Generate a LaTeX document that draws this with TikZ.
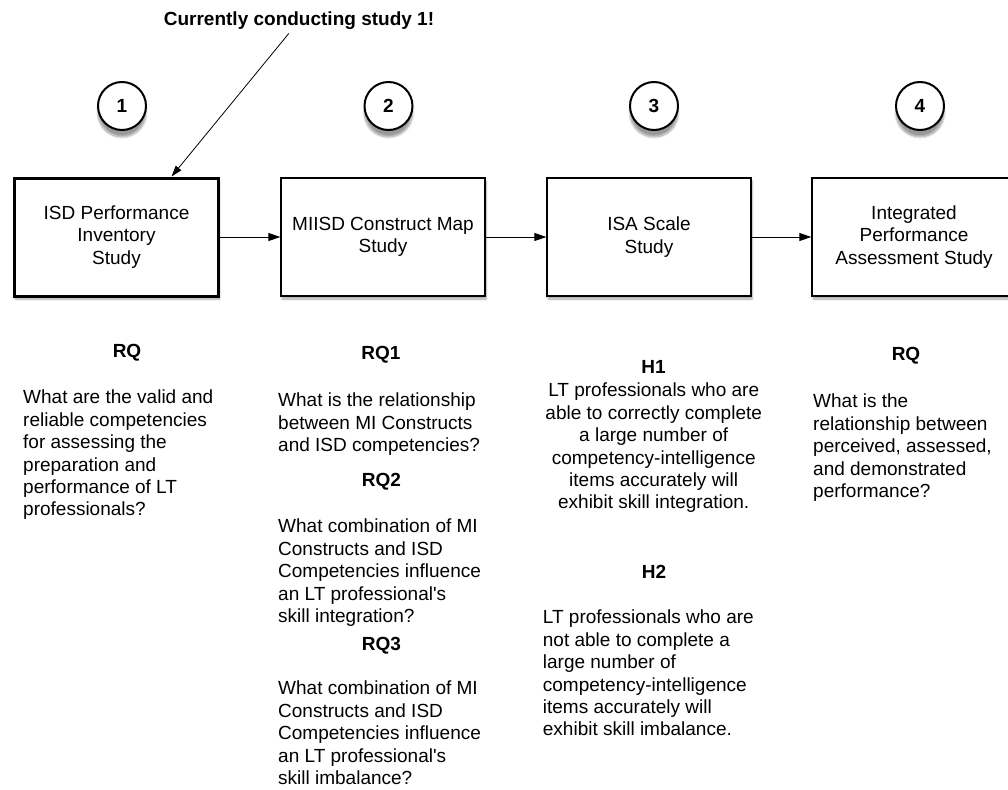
\documentclass[tikz,border=0pt]{standalone}
\usepackage{fontspec}
\setmainfont{Liberation Sans}
\newfontfamily\straightfont{Liberation Sans}
\newcommand{\apos}{{\straightfont'}}
\usetikzlibrary{arrows.meta}
\usetikzlibrary{calc}
\usetikzlibrary{shadows,shadows.blur}

\begin{document}
\begin{tikzpicture}[
        x=1pt, y=-1pt,
        every node/.style={font=\fontsize{19}{22.4}\selectfont},
        stage/.style={draw, line width=1.3pt, fill=white, minimum width=204pt, minimum height=118pt, align=center, inner sep=0pt,
            blur shadow={shadow xshift=1pt, shadow yshift=-3pt, shadow blur steps=6, shadow opacity=35}},
        marker/.style={draw, circle, line width=2pt, fill=white, minimum size=48pt, inner sep=0pt, font=\fontsize{19}{22.4}\selectfont\bfseries,
            blur shadow={shadow xshift=0pt, shadow yshift=-7pt, shadow blur steps=8, shadow opacity=40}},
        head/.style={font=\fontsize{19}{22.4}\selectfont\bfseries},
        body/.style={align=left, anchor=north west, inner sep=0pt},
        link/.style={-{Triangle[length=12pt,width=8pt]}, line width=1pt}
    ]
        \useasboundingbox (0,0) rectangle (1008,789);

        % Study markers
        \foreach \n/\x in {1/122, 2/388.5, 3/654, 4/920} {
            \node[marker] (c\n) at (\x,106) {\n};
        }

        % Study boxes
        \node[stage, line width=3pt] (b1) at (116.5,237) {ISD Performance\\Inventory\\Study};
        \node[stage] (b2) at (383,237) {MIISD Construct Map\\Study};
        \node[stage] (b3) at (649,237) {ISA Scale\\Study};
        \node[stage] (b4) at (914,237) {Integrated\\Performance\\Assessment Study};

        \foreach \a/\b in {b1/b2, b2/b3, b3/b4} {
            \draw[link] (\a) -- (\b);
        }

        % Note on study 1
        \node[head] (note) at (299,21) {Currently conducting study 1!};
        \draw[-{Triangle[length=11pt,width=7pt]}, line width=0.8pt] (note) -- ($(b1.north west)!0.766!(b1.north east)$);

        % Study 1 question
        \node[head] (rq) at (127,353) {RQ};
        \node[body] (rqtext) at (23,390) {What are the valid and\\reliable competencies\\for assessing the\\preparation and\\performance of LT\\professionals?};

        % Study 2 questions
        \node[head] (rqa) at (381,355) {RQ1};
        \node[body] (rqatext) at (278,393) {What is the relationship\\between MI Constructs\\and ISD competencies?};
        \node[head] (rqb) at (381.5,481.7) {RQ2};
        \node[body] (rqbtext) at (278,519) {What combination of MI\\Constructs and ISD\\Competencies influence\\an LT professional\apos s\\skill integration?};
        \node[head] (rqc) at (381.5,645.5) {RQ3};
        \node[body] (rqctext) at (278,681) {What combination of MI\\Constructs and ISD\\Competencies influence\\an LT professional\apos s\\skill imbalance?};

        % Study 3 hypotheses
        \node[head] (ha) at (653.5,366.7) {H1};
        \node[body, align=center, anchor=north] (hatext) at (653.7,383) {LT professionals who are\\able to correctly complete\\a large number of\\competency-intelligence\\items accurately will\\exhibit skill integration.};
        \node[head] (hb) at (654,571.7) {H2};
        \node[body] (hbtext) at (542.7,610) {LT professionals who are\\not able to complete a\\large number of\\competency-intelligence\\items accurately will\\exhibit skill imbalance.};

        % Study 4 question
        \node[head] (rqd) at (906,356) {RQ};
        \node[body] (rqdtext) at (813,394) {What is the\\relationship between\\perceived, assessed,\\and demonstrated\\performance?};
    \end{tikzpicture}
\end{document}
